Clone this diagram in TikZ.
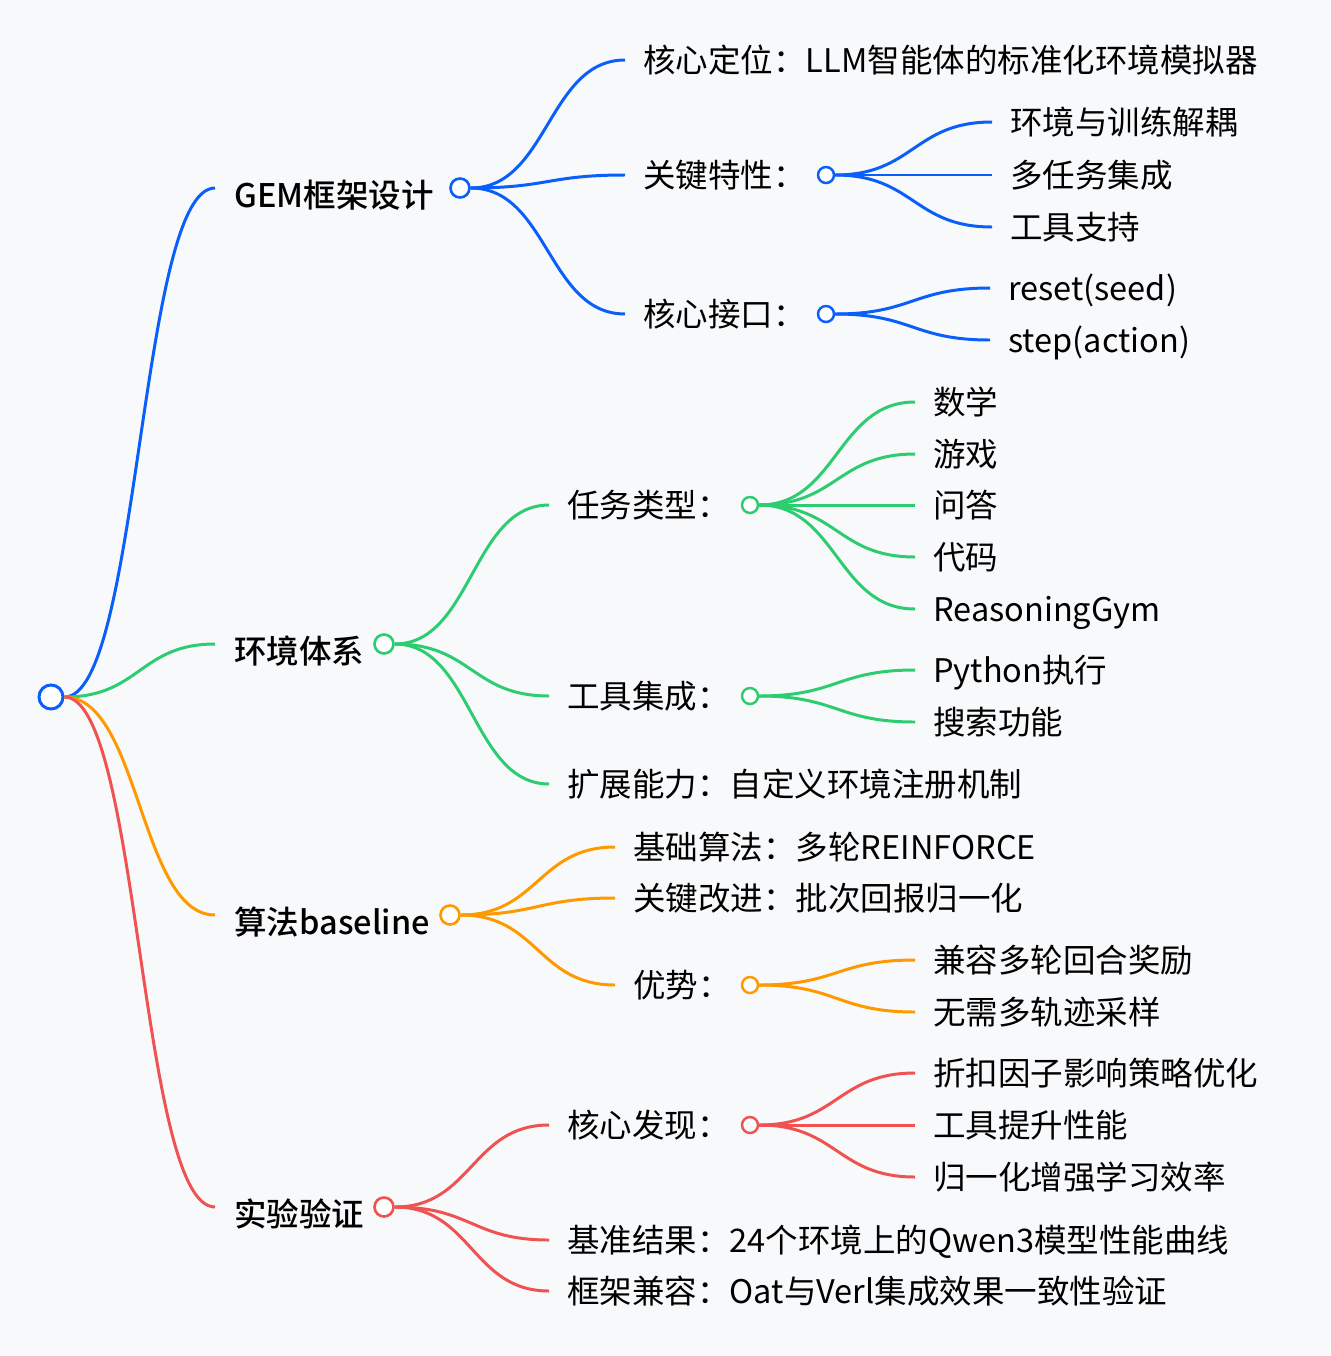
\documentclass[tikz,border=0pt]{standalone}
\usepackage{fontspec}
\setmainfont{Noto Sans CJK SC}[BoldFont={Noto Sans CJK SC Medium}]
\usetikzlibrary{calc}
\definecolor{mmblue}{RGB}{10,95,250}
\definecolor{mmgreen}{RGB}{46,204,113}
\definecolor{mmorange}{RGB}{255,153,0}
\definecolor{mmred}{RGB}{240,82,82}
\definecolor{mmback}{RGB}{248,249,251}
\tikzset{
  branch line/.style={line width=1.7pt},
  root dot/.style={circle,draw=mmblue,fill=white,line width=1.7pt,minimum size=0.48cm,inner sep=0pt},
  topic dot/.style={circle,fill=white,line width=1.5pt,minimum size=0.38cm,inner sep=0pt},
  item dot/.style={circle,fill=white,line width=1.4pt,minimum size=0.32cm,inner sep=0pt},
  topic text/.style={anchor=west,inner sep=0pt,font=\fontsize{18.5}{22}\selectfont\bfseries,text height=22.2pt,text depth=0pt},
  item text/.style={anchor=west,inner sep=0pt,font=\fontsize{18.5}{22}\selectfont,text height=16.3pt,text depth=2.2pt},
}
\newcommand{\mmLink}[3]{
\draw[branch line,#1] let \p1=(#2), \p2=(#3) in
  (\p1) .. controls ({(\x1+\x2)/2},\y1) and ({(\x1+\x2)/2},\y2) .. (\p2);
}

\begin{document}
\begin{tikzpicture}[x=0.02cm,y=-0.02cm]
\fill[mmback] (0,0) rectangle (1330,1356);
\useasboundingbox (0,0) rectangle (1330,1356);
\node[root dot] (root) at (51,697) {};
% main topics
\node[topic text] (g1) at (234,188) {GEM框架设计};
\node[topic text] (g2) at (234,644) {环境体系};
\node[topic text] (g3) at (234,915) {算法baseline};
\node[topic text] (g4) at (234,1207) {实验验证};
\node[topic dot,draw=mmblue] (g1d) at (460,188) {};
\node[topic dot,draw=mmgreen] (g2d) at (384,644) {};
\node[topic dot,draw=mmorange] (g3d) at (450,915) {};
\node[topic dot,draw=mmred] (g4d) at (384,1207) {};
\mmLink{mmblue}{root.east}{[xshift=-0.38cm]g1.west}
\mmLink{mmgreen}{root.east}{[xshift=-0.38cm]g2.west}
\mmLink{mmorange}{root.east}{[xshift=-0.38cm]g3.west}
\mmLink{mmred}{root.east}{[xshift=-0.38cm]g4.west}
% GEM
\node[item text] (a1) at (643,60) {核心定位：LLM智能体的标准化环境模拟器};
\node[item text] (a2) at (643,175) {关键特性：};
\node[item text] (a3) at (643,314) {核心接口：};
\node[item dot,draw=mmblue] (a2d) at (826,175) {};
\node[item dot,draw=mmblue] (a3d) at (826,314) {};
\foreach \nm in {a1,a2,a3} {
  \mmLink{mmblue}{g1d.east}{[xshift=-0.36cm]\nm.west}
}
\foreach \nm/\yp/\tx in {1/122/环境与训练解耦, 2/175/多任务集成, 3/227/工具支持} {
  \node[item text] (ka\nm) at (1010,\yp) {\tx};
  \mmLink{mmblue}{a2d.east}{[xshift=-0.36cm]ka\nm.west}
}
\foreach \nm/\yp/\tx in {1/288/reset(seed), 2/340/step(action)} {
  \node[item text] (kb\nm) at (1008,\yp) {\tx};
  \mmLink{mmblue}{a3d.east}{[xshift=-0.36cm]kb\nm.west}
}
% environments
\node[item text] (b1) at (567,505) {任务类型：};
\node[item text] (b2) at (567,696) {工具集成：};
\node[item text] (b3) at (567,784) {扩展能力：自定义环境注册机制};
\node[item dot,draw=mmgreen] (b1d) at (750,505) {};
\node[item dot,draw=mmgreen] (b2d) at (750,696) {};
\foreach \nm in {b1,b2,b3} {
  \mmLink{mmgreen}{g2d.east}{[xshift=-0.36cm]\nm.west}
}
\foreach \nm/\yp/\tx in {1/402/数学, 2/454/游戏, 3/505/问答, 4/557/代码, 5/609/ReasoningGym} {
  \node[item text] (kc\nm) at (933,\yp) {\tx};
  \mmLink{mmgreen}{b1d.east}{[xshift=-0.36cm]kc\nm.west}
}
\foreach \nm/\yp/\tx in {1/670/Python执行, 2/722/搜索功能} {
  \node[item text] (kd\nm) at (933,\yp) {\tx};
  \mmLink{mmgreen}{b2d.east}{[xshift=-0.36cm]kd\nm.west}
}
% baseline
\node[item text] (c1) at (633,847) {基础算法：多轮REINFORCE};
\node[item text] (c2) at (633,898) {关键改进：批次回报归一化};
\node[item text] (c3) at (633,985) {优势：};
\node[item dot,draw=mmorange] (c3d) at (750,985) {};
\foreach \nm in {c1,c2,c3} {
  \mmLink{mmorange}{g3d.east}{[xshift=-0.36cm]\nm.west}
}
\foreach \nm/\yp/\tx in {1/960/兼容多轮回合奖励, 2/1012/无需多轨迹采样} {
  \node[item text] (ke\nm) at (933,\yp) {\tx};
  \mmLink{mmorange}{c3d.east}{[xshift=-0.36cm]ke\nm.west}
}
% experiments
\node[item text] (d1) at (567,1125) {核心发现：};
\node[item text] (d2) at (567,1240) {基准结果：24个环境上的Qwen3模型性能曲线};
\node[item text] (d3) at (567,1291) {框架兼容：Oat与Verl集成效果一致性验证};
\node[item dot,draw=mmred] (d1d) at (750,1125) {};
\foreach \nm in {d1,d2,d3} {
  \mmLink{mmred}{g4d.east}{[xshift=-0.36cm]\nm.west}
}
\foreach \nm/\yp/\tx in {1/1073/折扣因子影响策略优化, 2/1125/工具提升性能, 3/1177/归一化增强学习效率} {
  \node[item text] (kf\nm) at (933,\yp) {\tx};
  \mmLink{mmred}{d1d.east}{[xshift=-0.36cm]kf\nm.west}
}
\end{tikzpicture}
\end{document}
